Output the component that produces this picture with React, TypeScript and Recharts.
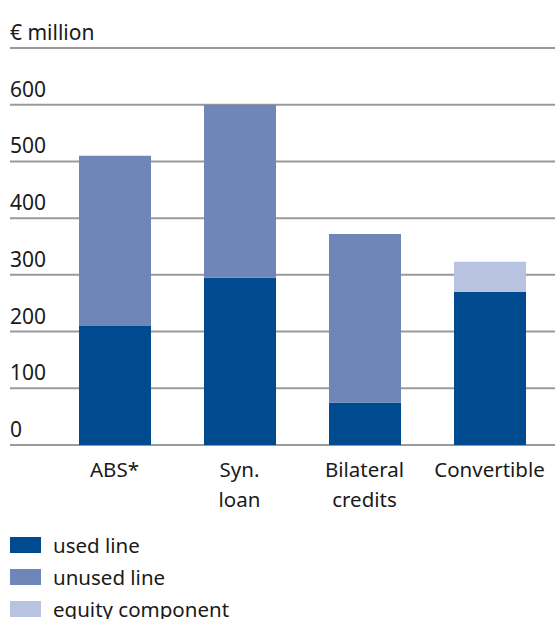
import { BarChart, Bar, XAxis, YAxis, CartesianGrid } from 'recharts';

const categories = ['ABS*', 'Syn.\nloan', 'Bilateral\ncredits', 'Convertible'];
const usedLine = [210, 295, 75, 270];
const unusedLine = [300, 305, 297, 0];
const equityComponent = [0, 0, 0, 53];
const yTicks = [0, 100, 200, 300, 400, 500, 600, 700];

const SERIES = [
    { key: 'used', name: 'used line', color: '#004a8f' },
    { key: 'unused', name: 'unused line', color: '#6f86b8' },
    { key: 'equity', name: 'equity component', color: '#b8c3e2' },
];

const FONT = '"Noto Sans", sans-serif';
const TEXT = '#1a1a1a';

const data = categories.map((name, i) => ({
    name,
    used: usedLine[i],
    unused: unusedLine[i],
    equity: equityComponent[i],
}));

const YTick = ({ y, payload }: any) => (
    <text x={10} y={y - 8} fill={TEXT} fontSize={21} fontFamily={FONT}>
        {payload.value === 700 ? '€ million' : payload.value}
    </text>
);

const XTick = ({ x, y, payload }: any) => {
    const lines = String(payload.value).split('\n');
    return (
        <text x={x} y={y} textAnchor="middle" fill={TEXT} fontSize={20.5} fontFamily={FONT}>
            {lines.map((l, i) => (
                <tspan key={i} x={x} y={y + 24 + i * 30}>{l}</tspan>
            ))}
        </text>
    );
};

export default function App() {
    return (
        <div style={{ position: 'absolute', left: 0, top: 0, width: 555, height: 619 }}>
            <BarChart width={555} height={619} data={data} margin={{ top: 48, right: 0, left: 0, bottom: 144 }}>
                <CartesianGrid horizontal vertical={false} stroke="#9a9a9a" strokeWidth={2} />
                <YAxis
                    domain={[0, 700]}
                    ticks={yTicks}
                    width={10}
                    axisLine={false}
                    tickLine={false}
                    tick={<YTick />}
                    interval={0}
                />
                <XAxis
                    dataKey="name"
                    height={30}
                    axisLine={false}
                    tickLine={false}
                    tick={<XTick />}
                    interval={0}
                    padding={{ left: 42, right: 3 }}
                />
                {SERIES.map((s) => (
                    <Bar key={s.key} dataKey={s.key} name={s.name} stackId="a" fill={s.color} barSize={72} isAnimationActive={false} />
                ))}
            </BarChart>
            <div style={{ position: 'absolute', left: 10, top: 529, fontFamily: FONT, fontSize: 20.5, color: TEXT }}>
                {SERIES.map((s) => (
                    <div key={s.key} style={{ display: 'flex', alignItems: 'center', height: 32, whiteSpace: 'nowrap' }}>
                        <span style={{ width: 31, height: 16, background: s.color, marginRight: 12 }} />
                        <span>{s.name}</span>
                    </div>
                ))}
            </div>
        </div>
    );
}
